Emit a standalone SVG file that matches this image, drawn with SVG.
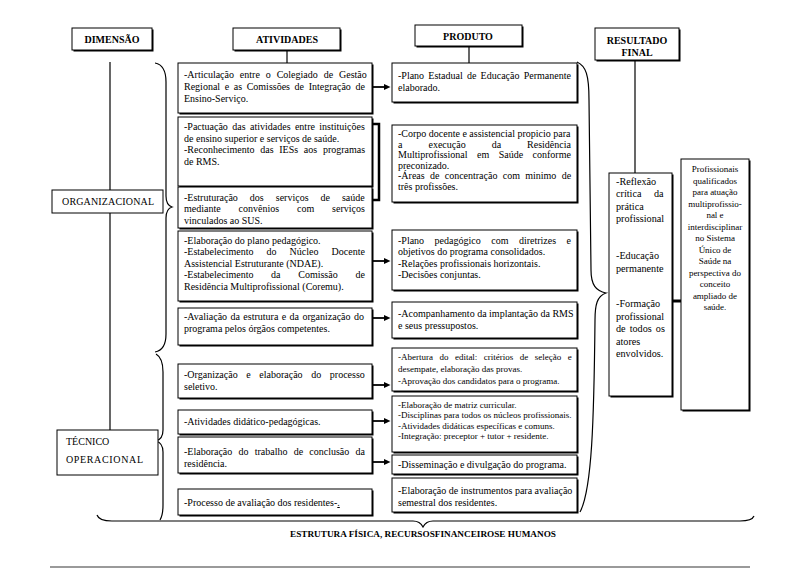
<svg xmlns="http://www.w3.org/2000/svg" width="800" height="570" viewBox="0 0 800 570">
<defs>
<marker id="ah" markerWidth="7" markerHeight="7" refX="0" refY="3.5" orient="auto" markerUnits="userSpaceOnUse"><path d="M0,0.5 L6.5,3.5 L0,6.5 z" fill="#000"/></marker>
</defs>
<style>
.bx{fill:#fff;stroke:#000;stroke-width:1}
.sh{fill:#000}
text{font-family:"Liberation Serif","Times New Roman","DejaVu Serif",serif;font-size:10px;fill:#000}
.hd{font-weight:bold}
.sm{font-size:9px}
.r1{font-size:10.2px}
.r2{font-size:9px;text-anchor:middle}
.c{fill:none;stroke:#000;stroke-width:1.2}
.ar{fill:none;stroke:#000;stroke-width:1.8}
</style>
<rect width="800" height="570" fill="#fff"/>

<g id="connectors">
<line class="c" x1="110" y1="62" x2="110" y2="190"/>
<line class="c" x1="110" y1="213" x2="110" y2="430"/>
<line class="c" x1="287" y1="50" x2="287" y2="63"/>
<line class="c" x1="469" y1="46" x2="469" y2="63"/>
<line class="c" x1="635" y1="60" x2="635" y2="173"/>
<path class="c" d="M155,63 Q166,65 166,82 L166,196 Q166,205 172,207 Q166,209 166,218 L166,334 Q166,350 155,352"/>
<path class="c" d="M156,354 Q163,358 163,372 L163,430 Q163,439 156,441 Q163,443 163,452 L163,505 Q163,515 160,520"/>
<path class="c" d="M577,62 C586,66 589,75 589,100 L591,270 C591,285 596,291 606,293 C597,296 595,305 595,320 C594,420 592,490 580,512"/>
<path class="c" d="M97,515 Q99,521 112,521 L413,521 Q420,521 423,527 Q426,521 433,521 L740,521 Q752,521 754,516"/>
<path fill="none" stroke="#000" stroke-width="2.5" d="M372,124 L379,124 L379,200 L372,200"/>
<line stroke="#000" stroke-width="3" x1="672" y1="301" x2="681" y2="301"/>
<line class="ar" x1="373" y1="87" x2="384" y2="87" marker-end="url(#ah)"/>
<line class="ar" x1="373" y1="261" x2="384" y2="261" marker-end="url(#ah)"/>
<line class="ar" x1="373" y1="318" x2="384" y2="318" marker-end="url(#ah)"/>
<line class="ar" x1="373" y1="385" x2="384" y2="385" marker-end="url(#ah)"/>
<line class="ar" x1="373" y1="421" x2="384" y2="421" marker-end="url(#ah)"/>
<line class="ar" x1="373" y1="462" x2="384" y2="462" marker-end="url(#ah)"/>
<line x1="50" y1="567" x2="750" y2="567" stroke="#9a9a9a" stroke-width="2"/>
</g>

<g id="h-dimensao"><rect class="sh" x="73.5" y="29.5" width="80" height="22"/><rect class="bx" x="72" y="28" width="80" height="22"/><text class="hd" x="112" y="43" text-anchor="middle">DIMENSÃO</text></g>
<g id="h-atividades"><rect class="sh" x="234.5" y="29.5" width="107" height="22"/><rect class="bx" x="233" y="28" width="107" height="22"/><text class="hd" x="287" y="43" text-anchor="middle">ATIVIDADES</text></g>
<g id="h-produto"><rect class="sh" x="416.5" y="26.5" width="107" height="21"/><rect class="bx" x="415" y="25" width="107" height="21"/><text class="hd" x="468" y="39.5" text-anchor="middle">PRODUTO</text></g>
<g id="h-resultado"><rect class="sh" x="596.5" y="29.5" width="84" height="32"/><rect class="bx" x="595" y="28" width="84" height="32"/><text class="hd" x="637" y="44" text-anchor="middle">RESULTADO</text><text class="hd" x="637" y="55.5" text-anchor="middle">FINAL</text></g>

<g id="d-organizacional"><rect class="bx" x="52" y="190" width="111" height="23"/><text x="62" y="205" textLength="92" lengthAdjust="spacing">ORGANIZACIONAL</text></g>
<g id="d-tecnico"><rect class="bx" x="57" y="430" width="101" height="45"/><text x="66" y="445">TÉCNICO</text><text x="66" y="463" textLength="77" lengthAdjust="spacing">OPERACIONAL</text></g>

<g id="a1"><rect class="sh" x="179.5" y="64.5" width="194" height="50"/><rect class="bx" x="178" y="63" width="194" height="50"/>
<text x="184" y="78" word-spacing="3.4">-Articulação entre o Colegiado de Gestão</text>
<text x="184" y="90" word-spacing="2.1">Regional e as Comissões de Integração de</text>
<text x="184" y="102">Ensino-Serviço.</text></g>

<g id="a2"><rect class="sh" x="179.5" y="118.5" width="194" height="69"/><rect class="bx" x="178" y="117" width="194" height="69"/>
<text x="184" y="130" word-spacing="1.9">-Pactuação das atividades entre instituições</text>
<text x="184" y="141.5">de ensino superior e serviços de saúde.</text>
<text x="184" y="153" word-spacing="3.2">-Reconhecimento das IESs aos programas</text>
<text x="184" y="164.5">de RMS.</text></g>

<g id="a3"><rect class="sh" x="179.5" y="188.5" width="194" height="41"/><rect class="bx" x="178" y="187" width="194" height="41"/>
<text x="184" y="200.5" word-spacing="9.5">-Estruturação dos serviços de saúde</text>
<text x="184" y="212" word-spacing="15.4">mediante convênios com serviços</text>
<text x="184" y="223.5">vinculados ao SUS.</text></g>

<g id="a4"><rect class="sh" x="179.5" y="232.5" width="194" height="70"/><rect class="bx" x="178" y="231" width="194" height="70"/>
<text x="184" y="243.5">-Elaboração do plano pedagógico.</text>
<text x="184" y="255" word-spacing="10.6">-Estabelecimento do Núcleo Docente</text>
<text x="184" y="266.5">Assistencial Estruturante (NDAE).</text>
<text x="184" y="278" word-spacing="15.2">-Estabelecimento da Comissão de</text>
<text x="184" y="289.5">Residência Multiprofissional (Coremu).</text></g>

<g id="a5"><rect class="sh" x="179.5" y="309.5" width="194" height="37"/><rect class="bx" x="178" y="308" width="194" height="37"/>
<text x="184" y="320" word-spacing="0.9">-Avaliação da estrutura e da organização do</text>
<text x="184" y="332">programa pelos órgãos competentes.</text></g>

<g id="a6"><rect class="sh" x="179.5" y="365.5" width="194" height="34"/><rect class="bx" x="178" y="364" width="194" height="34"/>
<text x="184" y="377.5" word-spacing="6.1">-Organização e elaboração do processo</text>
<text x="184" y="389.5">seletivo.</text></g>

<g id="a7"><rect class="sh" x="179.5" y="411.5" width="194" height="24"/><rect class="bx" x="178" y="410" width="194" height="24"/>
<text x="184" y="425">-Atividades didático-pedagógicas.</text></g>

<g id="a8"><rect class="sh" x="179.5" y="438.5" width="194" height="36"/><rect class="bx" x="178" y="437" width="194" height="36"/>
<text x="184" y="454.5" word-spacing="3.7">-Elaboração do trabalho de conclusão da</text>
<text x="184" y="466.5">residência.</text></g>

<g id="a9"><rect class="sh" x="179.5" y="490.5" width="194" height="26"/><rect class="bx" x="178" y="489" width="194" height="26"/>
<text x="184" y="506">-Processo de avaliação dos residentes-<tspan text-decoration="underline">.</tspan></text></g>

<g id="p1"><rect class="sh" x="393.5" y="64.5" width="185" height="39"/><rect class="bx" x="392" y="63" width="185" height="39"/>
<text x="398" y="78.5" word-spacing="1.7">-Plano Estadual de Educação Permanente</text>
<text x="398" y="91">elaborado.</text></g>

<g id="p2"><rect class="sh" x="393.5" y="126.5" width="185" height="77"/><rect class="bx" x="392" y="125" width="185" height="77"/>
<text x="398" y="137">-Corpo docente e assistencial propicio para</text>
<text x="398" y="147.5" word-spacing="23.5">a execução da Residência</text>
<text x="398" y="158" word-spacing="7">Multiprofissional em Saúde conforme</text>
<text x="398" y="168.5">preconizado.</text>
<text x="398" y="179" word-spacing="2.8">-Áreas de concentração com minimo de</text>
<text x="398" y="189.5">três profissões.</text></g>

<g id="p3"><rect class="sh" x="393.5" y="231.5" width="185" height="60"/><rect class="bx" x="392" y="230" width="185" height="60"/>
<text x="398" y="243.5" word-spacing="8">-Plano pedagógico com diretrizes e</text>
<text x="398" y="255">objetivos do programa consolidados.</text>
<text x="398" y="266.5">-Relações profissionais horizontais.</text>
<text x="398" y="277.5">-Decisões conjuntas.</text></g>

<g id="p4"><rect class="sh" x="393.5" y="303.5" width="185" height="36"/><rect class="bx" x="392" y="302" width="185" height="36"/>
<text x="398" y="316.5">-Acompanhamento da implantação da RMS</text>
<text x="398" y="328.5">e seus pressupostos.</text></g>

<g id="p5"><rect class="sh" x="393.5" y="349.5" width="185" height="43"/><rect class="bx" x="392" y="348" width="185" height="43"/>
<text class="sm" x="398" y="360" word-spacing="4.2">-Abertura do edital: critérios de seleção e</text>
<text class="sm" x="398" y="371.5">desempate, elaboração das provas.</text>
<text class="sm" x="398" y="383.5">-Aprovação dos candidatos para o programa.</text></g>

<g id="p6"><rect class="sh" x="393.5" y="397.5" width="185" height="56"/><rect class="bx" x="392" y="396" width="185" height="56"/>
<text class="sm" x="398" y="408">-Elaboração de matriz curricular.</text>
<text class="sm" x="398" y="418">-Disciplinas para todos os núcleos profissionais.</text>
<text class="sm" x="398" y="428.5">-Atividades didáticas específicas e comuns.</text>
<text class="sm" x="398" y="439">-Integração: preceptor + tutor + residente.</text></g>

<g id="p7"><rect class="sh" x="393.5" y="456.5" width="185" height="19"/><rect class="bx" x="392" y="455" width="185" height="19"/>
<text x="398" y="468">-Disseminação e divulgação do programa.</text></g>

<g id="p8"><rect class="sh" x="393.5" y="479.5" width="185" height="34"/><rect class="bx" x="392" y="478" width="185" height="34"/>
<text x="398" y="493.5">-Elaboração de instrumentos para avaliação</text>
<text x="398" y="506">semestral dos residentes.</text></g>

<g id="r1"><rect class="sh" x="610.5" y="174.5" width="63" height="223"/><rect class="bx" x="609" y="173" width="63" height="223"/>
<text class="r1" x="616" y="184.5">-Reflexão</text>
<text class="r1" x="616" y="197" word-spacing="10">crítica da</text>
<text class="r1" x="616" y="209.5">prática</text>
<text class="r1" x="616" y="222">profissional</text>
<text class="r1" x="616" y="259">-Educação</text>
<text class="r1" x="616" y="271.5">permanente</text>
<text class="r1" x="616" y="307">-Formação</text>
<text class="r1" x="616" y="319.5">profissional</text>
<text class="r1" x="616" y="332" word-spacing="1.5">de todos os</text>
<text class="r1" x="616" y="344.5">atores</text>
<text class="r1" x="616" y="357">envolvidos.</text></g>

<g id="r2"><rect class="sh" x="682.5" y="160.5" width="68" height="251"/><rect class="bx" x="681" y="159" width="68" height="251"/>
<text class="r2" x="715" y="172">Profissionais</text>
<text class="r2" x="715" y="183.5">qualificados</text>
<text class="r2" x="715" y="195">para atuação</text>
<text class="r2" x="715" y="206.5">multiprofissio-</text>
<text class="r2" x="715" y="218">nal e</text>
<text class="r2" x="715" y="229.5">interdisciplinar</text>
<text class="r2" x="715" y="241">no Sistema</text>
<text class="r2" x="715" y="252.5">Único de</text>
<text class="r2" x="715" y="264">Saúde na</text>
<text class="r2" x="715" y="275.5">perspectiva do</text>
<text class="r2" x="715" y="287">conceito</text>
<text class="r2" x="715" y="298.5">ampliado de</text>
<text class="r2" x="715" y="310">saúde.</text></g>

<g id="base-label"><text class="hd" x="290" y="537" textLength="266" lengthAdjust="spacingAndGlyphs" style="font-size:8.5px">ESTRUTURA FÍSICA, RECURSOSFINANCEIROSE HUMANOS</text></g>
</svg>
